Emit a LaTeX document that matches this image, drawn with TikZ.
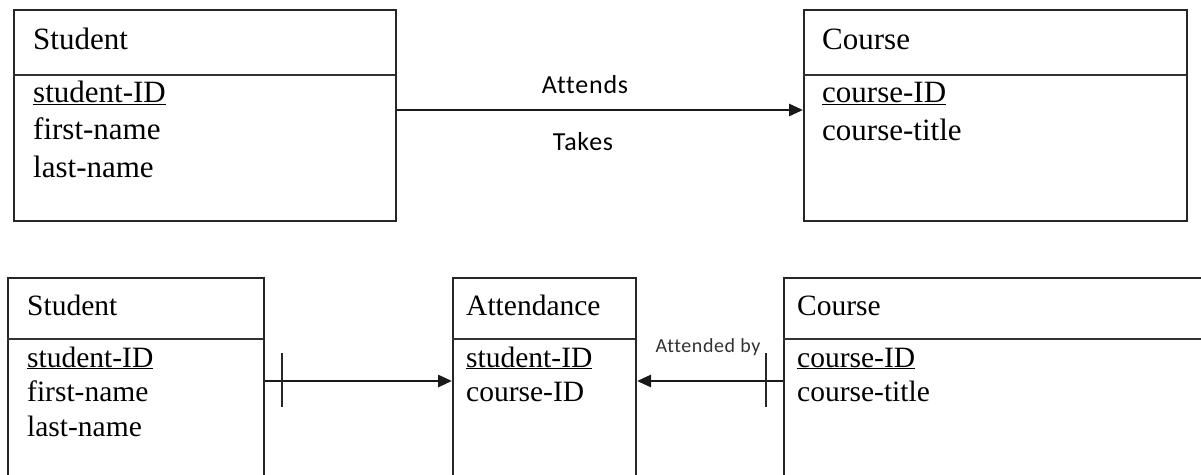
\documentclass[tikz,border=0pt]{standalone}
\usepackage{fontspec}
\setmainfont{Liberation Serif}
\newfontfamily\lblfont[Ligatures=NoCommon,LetterSpace=3]{Carlito}
\usetikzlibrary{arrows.meta}
\begin{document}
\begin{tikzpicture}[x=1pt,y=-1pt,
 box/.style={draw=black!85, line width=2pt, rectangle, anchor=north west, inner sep=0},
 divline/.style={draw=black!80, line width=2pt},
 txt/.style={anchor=base west, inner sep=0, font=\fontsize{31}{36}\selectfont},
 txtb/.style={anchor=base west, inner sep=0, font=\fontsize{29.5}{34}\selectfont},
 lbl/.style={inner sep=0, anchor=base, font=\lblfont\fontsize{26}{32}\selectfont},
 lbls/.style={inner sep=0, anchor=base, text=black!80, font=\lblfont\fontsize{20}{24}\selectfont},
 conn/.style={line width=2.8pt, draw=black!90, -{Triangle[length=14pt,width=12pt]}},
 tickmark/.style={line width=1.5pt, draw=black!85}]
\useasboundingbox (0,0) rectangle (1201,474);
\clip (0,0) rectangle (1201,474);
\fill[white] (0,0) rectangle (1201,474);
% top row
\node[box, minimum width=382pt, minimum height=211pt] (s1) at (13,9) {};
\draw[divline] (13,75) -- (395,75);
\node[txt] (s1t) at (33,49) {Student};
\node[txt] (s1a) at (33,102) {\underline{student-ID}};
\node[txt] (s1b) at (33,139) {first-name};
\node[txt] (s1c) at (33,177) {last-name};
\node[box, minimum width=383pt, minimum height=211pt] (c1) at (803,9) {};
\draw[divline] (803,75) -- (1186,75);
\node[txt] (c1t) at (822,49) {Course};
\node[txt] (c1a) at (822,102) {\underline{course-ID}};
\node[txt] (c1b) at (822,140) {course-title};
\draw[conn] (s1.east |- 0,110) -- (c1.west |- 0,110);
\node[lbl] (l1) at (585,93) {Attends};
\node[lbl] (l2) at (583,150) {Takes};
% bottom row
\node[box, minimum width=256pt, minimum height=260pt] (s2) at (7,277) {};
\draw[divline] (7,339) -- (263,339);
\node[txtb] (s2t) at (27,315) {Student};
\node[txtb] (s2a) at (27,367) {\underline{student-ID}};
\node[txtb] (s2b) at (27,401) {first-name};
\node[txtb] (s2c) at (27,436) {last-name};
\node[box, minimum width=183pt, minimum height=260pt] (a2) at (452,277) {};
\draw[divline] (452,339) -- (635,339);
\node[txtb] (a2t) at (466,315) {Attendance};
\node[txtb] (a2a) at (466,367) {\underline{student-ID}};
\node[txtb] (a2b) at (466,401) {course-ID};
\node[box, minimum width=450pt, minimum height=260pt] (c2) at (783,277) {};
\draw[divline] (783,339) -- (1233,339);
\node[txtb] (c2t) at (797,315) {Course};
\node[txtb] (c2a) at (797,367) {\underline{course-ID}};
\node[txtb] (c2b) at (797,401) {course-title};
\draw[conn] (s2.east |- 0,381) -- (a2.west |- 0,381);
\draw[tickmark] (282,353) -- (282,407);
\draw[conn] (c2.west |- 0,381) -- (a2.east |- 0,381);
\draw[tickmark] (766,353) -- (766,407);
\node[lbls] (l3) at (708,352) {Attended by};
\end{tikzpicture}
\end{document}
